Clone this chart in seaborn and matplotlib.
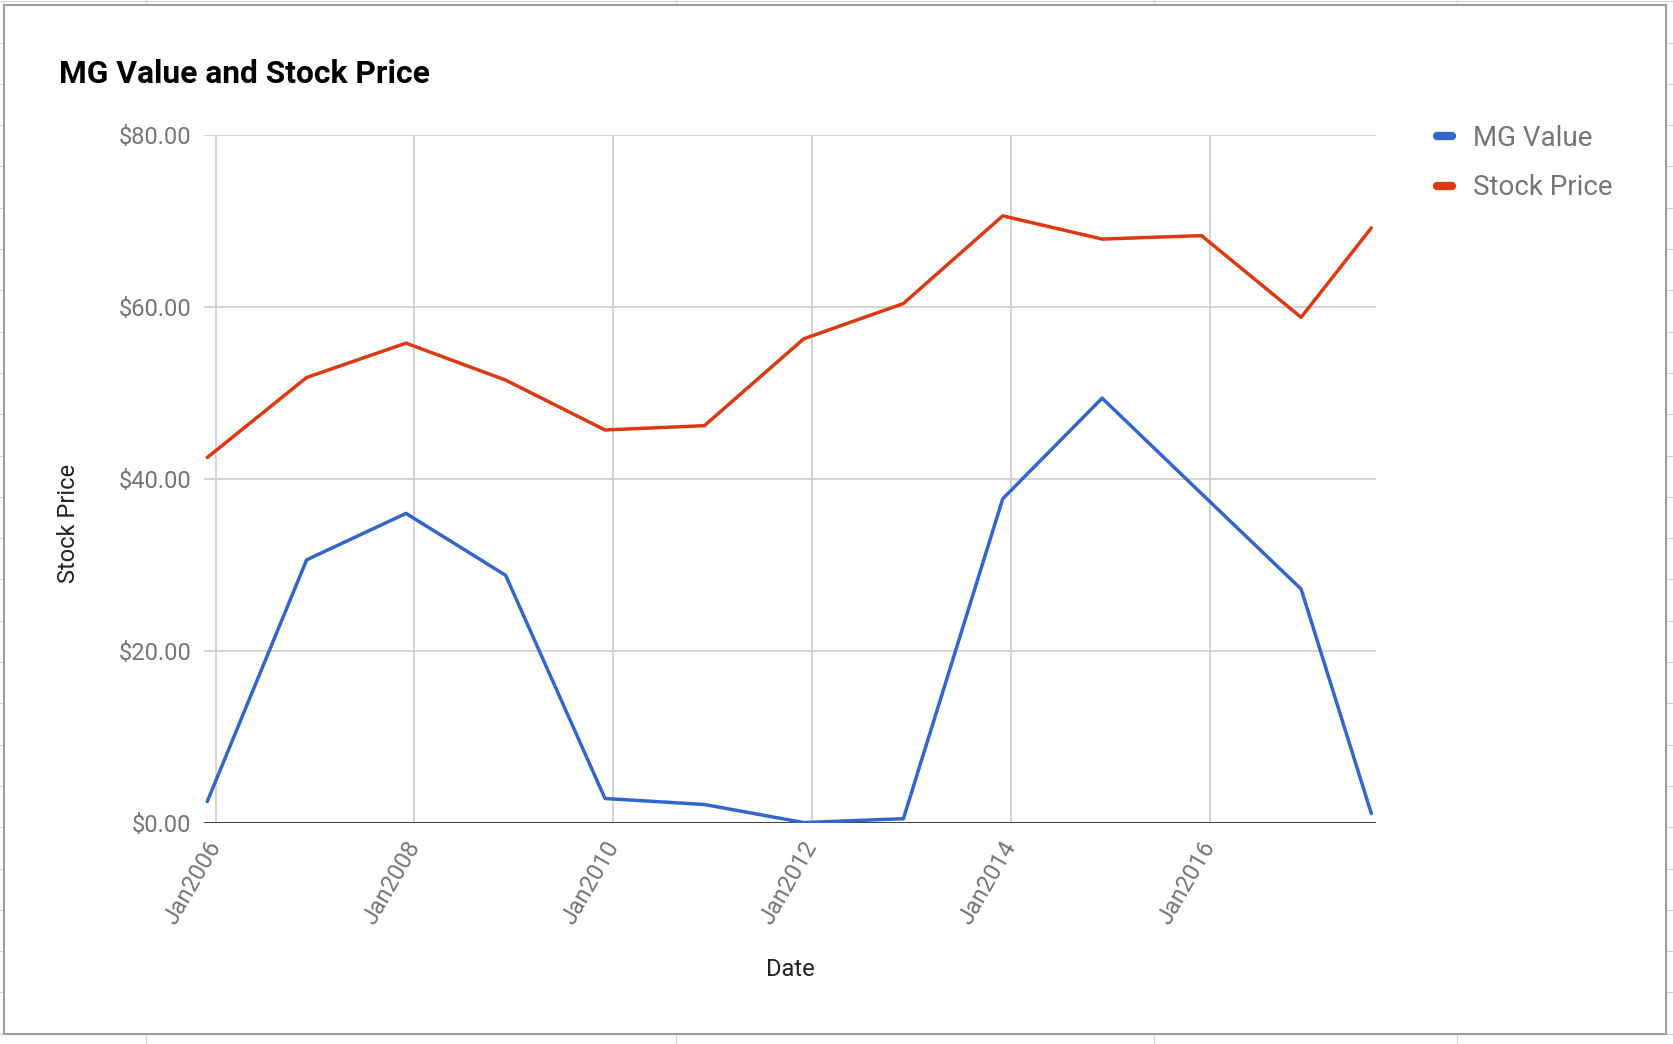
import matplotlib
matplotlib.use("Agg")
import matplotlib.pyplot as plt
import matplotlib.dates as mdates
import matplotlib.ticker as mticker
from matplotlib.lines import Line2D
from matplotlib.patches import Rectangle
import seaborn as sns
import pandas as pd

# ---------------- data ----------------
dates = ["2005-12-01", "2006-12-01", "2007-12-01", "2008-12-01", "2009-12-01",
         "2010-12-01", "2011-12-01", "2012-12-01", "2013-12-01", "2014-12-01",
         "2015-12-01", "2016-12-01", "2017-08-16"]
mg_value = [2.5, 30.6, 36.0, 28.8, 2.85, 2.15, 0.05, 0.5, 37.7, 49.4, 38.3, 27.2, 1.1]
stock_price = [42.5, 51.8, 55.8, 51.5, 45.7, 46.2, 56.3, 60.4, 70.6, 67.9, 68.3, 58.8, 69.2]
series_names = ["MG Value", "Stock Price"]
series_colors = ["#3366cc", "#dc3912"]
y_ticks = [0, 20, 40, 60, 80]
x_tick_dates = ["2006-01-01", "2008-01-01", "2010-01-01", "2012-01-01",
                "2014-01-01", "2016-01-01"]
title = "MG Value and Stock Price"
x_title = "Date"
y_title = "Stock Price"

df = pd.DataFrame({
    "Date": pd.to_datetime(dates + dates),
    "Value": mg_value + stock_price,
    "Series": [series_names[0]] * len(dates) + [series_names[1]] * len(dates),
})

# ---------------- style ----------------
sns.set_theme(style="white")
plt.rcParams["font.family"] = ["Roboto", "DejaVu Sans"]

W, H = 1673, 1044
fig = plt.figure(figsize=(W / 100, H / 100), dpi=100)
fig.patch.set_facecolor("white")


def fx(px):
    return px / W


def fy(py):
    return 1 - py / H


# spreadsheet cell lines behind the chart box
cell_color = "#d4d4d4"
for k in range(26):
    yy = 42.5 + 41.3 * k
    if yy > H:
        break
    fig.add_artist(Line2D([0, 1], [fy(yy), fy(yy)], transform=fig.transFigure,
                          color=cell_color, lw=0.8, zorder=-5))
fig.add_artist(Line2D([0, 1], [fy(1), fy(1)], transform=fig.transFigure,
                      color=cell_color, lw=0.8, zorder=-5))
for xx in [146, 676, 1154, 1457]:
    fig.add_artist(Line2D([fx(xx), fx(xx)], [0, 1], transform=fig.transFigure,
                          color=cell_color, lw=0.8, zorder=-5))

# chart box
box = Rectangle((fx(4), fy(1034)), fx(1666) - fx(4), fy(5) - fy(1034),
                transform=fig.transFigure, facecolor="white",
                edgecolor="#9e9e9e", lw=1.5, zorder=-2)
fig.add_artist(box)

# ---------------- axes ----------------
ax = fig.add_axes([fx(204), fy(823), (1376 - 204) / W, (823 - 135) / H])
ax.set_facecolor("none")

sns.lineplot(data=df, x="Date", y="Value", hue="Series",
             palette=dict(zip(series_names, series_colors)),
             linewidth=2.5, ax=ax, zorder=3)

ax.set_xlim(pd.Timestamp("2005-11-19"), pd.Timestamp("2017-09-02"))
ax.set_ylim(0, 80)
ax.set_yticks(y_ticks)
ax.yaxis.set_major_formatter(mticker.FuncFormatter(lambda v, p: f"${v:,.2f}"))
ax.set_xticks(pd.to_datetime(x_tick_dates))
ax.xaxis.set_major_formatter(mdates.DateFormatter("%b%Y"))

ax.grid(True, color="#cccccc", lw=1.2)
ax.set_axisbelow(True)
for s in ax.spines.values():
    s.set_visible(False)
ax.axhline(0, color="#333333", lw=2.0, zorder=2)

ax.tick_params(axis="y", length=0, pad=9, labelsize=17, labelcolor="#757575")
ax.tick_params(axis="x", length=0, pad=14, labelsize=17, labelcolor="#757575")
for lab in ax.get_xticklabels():
    lab.set_rotation(60)
    lab.set_ha("right")
    lab.set_va("center")
    lab.set_rotation_mode("anchor")

ax.set_xlabel(x_title, fontsize=17, color="#222222")
ax.xaxis.set_label_coords((790 - 204) / 1172, (823 - 969) / 688)
ax.xaxis.label.set_va("center")
ax.set_ylabel(y_title, fontsize=17, color="#222222")
ax.yaxis.set_label_coords((69 - 204) / 1172, (823 - 523) / 688)
ax.yaxis.label.set_va("center")

# legend
handles, labels = ax.get_legend_handles_labels()
if ax.get_legend() is not None:
    ax.get_legend().remove()
leg = fig.legend(handles, labels, loc="upper left",
                 bbox_to_anchor=(fx(1437), fy(124.5)), frameon=False,
                 fontsize=20, handlelength=0.54, handletextpad=0.77,
                 labelspacing=0.82, borderpad=0, borderaxespad=0)
for line in leg.get_lines():
    line.set_linewidth(6)
    line.set_solid_capstyle("round")
for t in leg.get_texts():
    t.set_color("#757575")

fig.text(fx(59), fy(83), title, fontsize=22.9, fontweight="bold",
         color="black", ha="left", va="baseline")

fig.savefig("out.png", dpi=100)
